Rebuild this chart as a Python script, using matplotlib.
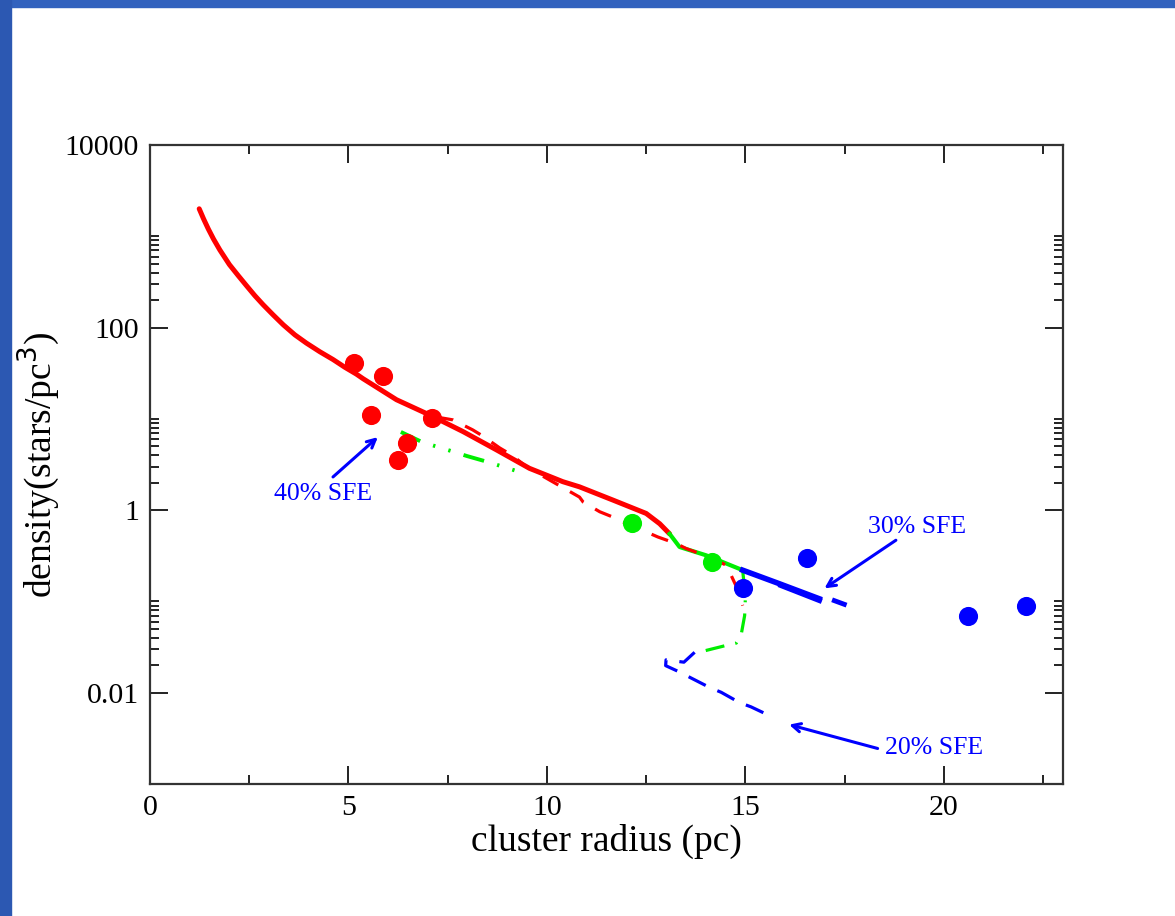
import matplotlib
matplotlib.use('Agg')
import matplotlib.pyplot as plt
from matplotlib.patches import Rectangle
from matplotlib.ticker import FixedLocator, NullFormatter
import numpy as np

plt.rcParams['font.family'] = ['Liberation Serif', 'DejaVu Serif']

# 40% SFE model: main track (red solid), then green, then blue
red_x = [1.24, 1.35, 1.47, 1.6, 1.76, 2.0, 2.22, 2.43, 2.64, 2.85, 3.1, 3.36, 3.65,
         3.94, 4.28, 4.61, 4.91, 5.2, 5.37, 6.21, 7.05, 7.89, 8.73, 9.56, 10.4, 10.82,
         11.66, 12.5, 12.84, 13.09]
red_y = [2000, 1550, 1200, 933, 708, 490, 372, 288, 224, 178, 138, 107, 83.2,
         67.6, 54.3, 44.7, 36.7, 30.9, 27.5, 16.2, 11.0, 7.24, 4.57, 2.87, 2.05, 1.80,
         1.29, 0.92, 0.71, 0.55]
green_x = [13.09, 13.34, 14.01, 14.93]
green_y = [0.55, 0.395, 0.32, 0.22]
blue_x = [14.93, 15.86, 16.86]
blue_y = [0.22, 0.156, 0.107]
blue2_x = [15.9, 16.86]
blue2_y = [0.150, 0.103]
blue_tail_x = [17.24, 17.49]
blue_tail_y = [0.102, 0.093]

# red dashed track
rdash_x = [7.2, 7.63, 8.13, 8.38, 8.81, 9.11, 9.49, 10.82, 10.91, 11.33, 11.75, 12.08,
           12.5, 12.79, 13.26, 13.51, 13.97, 14.26, 14.52, 14.64, 14.77, 14.93]
rdash_y = [10.5, 9.75, 7.57, 6.5, 4.8, 4.02, 2.97, 1.39, 1.23, 0.96, 0.81, 0.684,
           0.578, 0.509, 0.43, 0.379, 0.32, 0.282, 0.249, 0.193, 0.146, 0.09]

# green dash-dot track (upper and lower parts)
gdd1_x = [6.32, 6.85, 7.25, 7.58, 7.98, 8.51, 8.91, 9.3]
gdd1_y = [7.19, 5.58, 4.92, 4.45, 3.92, 3.37, 2.97, 2.63]
gdd2_x = [14.93, 15.0, 14.98, 14.9, 14.77, 14.52, 13.79]
gdd2_y = [0.22, 0.112, 0.070, 0.045, 0.035, 0.033, 0.0275]

# blue dashed track (20% SFE)
bdash_x = [13.72, 13.45, 13.0, 12.99, 13.36, 13.63, 14.1, 14.39, 14.85, 15.14, 15.61]
bdash_y = [0.0277, 0.0216, 0.0229, 0.0198, 0.0167, 0.0145, 0.0114, 0.0101, 0.0078,
           0.0070, 0.0056]

# observed clusters
red_pts_x = [5.13, 5.86, 5.56, 7.10, 6.47, 6.24]
red_pts_y = [41.2, 29.7, 11.1, 10.3, 5.45, 3.54]
green_pts_x = [12.13, 14.17]
green_pts_y = [0.72, 0.27]
blue_pts_x = [14.95, 16.54, 20.61, 22.07]
blue_pts_y = [0.139, 0.297, 0.070, 0.090]

# annotations: label, text position, arrow tail, arrow head
labels = ['40% SFE', '30% SFE', '20% SFE']
label_pos = [(4.35, 1.50), (19.33, 0.65), (19.76, 0.00251)]
arrow_tail = [(4.61, 2.31), (18.79, 0.468), (18.33, 0.00245)]
arrow_head = [(5.74, 6.31), (16.99, 0.139), (16.1, 0.00447)]

fig = plt.figure(figsize=(11.75, 9.16), dpi=100)
fig.add_artist(Rectangle((0, 1 - 7 / 916), 1, 7 / 916, transform=fig.transFigure,
                         color='#3262be', zorder=0))
fig.add_artist(Rectangle((0, 0), 11 / 1175, 1, transform=fig.transFigure,
                         color='#2c58b2', zorder=0))

ax = fig.add_axes([150 / 1175, 1 - 784 / 916, 913 / 1175, 639 / 916])
ax.set_yscale('log')
ax.set_xlim(0, 23)
ax.set_ylim(1e-3, 1e4)

ax.plot(red_x, red_y, color='red', lw=3.6, solid_capstyle='round', zorder=4)
ax.plot(green_x, green_y, color='#00ee00', lw=3.0, zorder=4)
ax.plot(blue_x, blue_y, color='blue', lw=4.0, zorder=4)
ax.plot(blue2_x, blue2_y, color='blue', lw=4.0, zorder=4)
ax.plot(blue_tail_x, blue_tail_y, color='blue', lw=3.5, zorder=4)
ax.plot(rdash_x, rdash_y, color='red', lw=2.3, ls=(0, (5.5, 4.2)), zorder=5)
ax.plot(gdd1_x, gdd1_y, color='#00ee00', lw=2.8, ls=(0, (5.5, 3.5, 0.6, 3.5, 0.6, 3.5)), zorder=3)
ax.plot(gdd2_x, gdd2_y, color='#00ee00', lw=2.3, ls=(0, (6, 3.5, 0.6, 3.5)), zorder=3)
ax.plot(bdash_x, bdash_y, color='blue', lw=2.3, ls=(0, (6, 4)), zorder=3)

ax.scatter(red_pts_x, red_pts_y, s=190, color='red', zorder=6, linewidths=0)
ax.scatter(green_pts_x, green_pts_y, s=190, color='#00ee00', zorder=6, linewidths=0)
ax.scatter(blue_pts_x, blue_pts_y, s=190, color='blue', zorder=6, linewidths=0)

for lab, pos, tail, head in zip(labels, label_pos, arrow_tail, arrow_head):
    ax.text(pos[0], pos[1], lab, color='blue', fontsize=18.5, ha='center', va='center')
    ax.annotate('', xy=head, xytext=tail,
                arrowprops=dict(arrowstyle='->,head_length=0.6,head_width=0.3',
                                color='blue', lw=2.2, shrinkA=0, shrinkB=0))

# ticks on all sides, pointing inward
ax.set_xticks([0, 5, 10, 15, 20])
ax.set_xticks(np.arange(2.5, 23, 5), minor=True)
ax.yaxis.set_major_locator(FixedLocator([1e-2, 1, 1e2, 1e4]))
ax.set_yticklabels(['0.01', '1', '100', '10000'])
minors = [k * m for m in [1e-2, 1, 1e2] for k in range(2, 11)]
ax.yaxis.set_minor_locator(FixedLocator(minors))
ax.yaxis.set_minor_formatter(NullFormatter())
ax.tick_params(which='both', direction='in', top=True, right=True,
               labelsize=21.5, colors='#222222', labelcolor='black', width=1.4)
ax.tick_params(which='major', length=13, pad=8)
ax.tick_params(which='minor', length=6.5)
for s in ax.spines.values():
    s.set_linewidth(1.6)
    s.set_color('#333333')

ax.set_xlabel('cluster radius (pc)', fontsize=27, labelpad=2)
ax.set_ylabel(r'density(stars/pc$^{3}$)', fontsize=27, labelpad=2)

fig.savefig('out.png', dpi=100)
